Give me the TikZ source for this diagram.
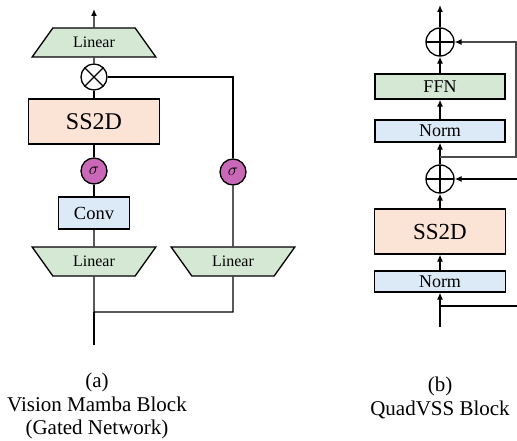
\documentclass[tikz,border=0pt]{standalone}
\usepackage{fontspec}
\setmainfont{Liberation Serif}
\usetikzlibrary{shapes.geometric, arrows.meta}

\definecolor{lingreen}{RGB}{213,232,212}
\definecolor{ssdsalmon}{RGB}{251,227,214}
\definecolor{normblue}{RGB}{220,234,247}
\definecolor{sigpurple}{RGB}{200,104,182}

\tikzstyle{block}=[rectangle, draw, line width=1.3pt, inner sep=0pt]
\tikzstyle{linear}=[trapezium, draw, line width=1.3pt, fill=lingreen,
                    trapezium stretches=true, minimum width=124pt,
                    minimum height=29pt, trapezium angle=55,
                    font=\fontsize{16}{16}\selectfont]
\tikzstyle{sig}=[circle, draw, line width=1.3pt, fill=sigpurple,
                 minimum size=26pt, inner sep=0pt,
                 font=\fontsize{17}{17}\selectfont]
\tikzstyle{times}=[circle, draw, line width=1.3pt, fill=white,
                   minimum size=26pt, inner sep=0pt,
                   path picture={\draw [line width=1.3pt]
                     (path picture bounding box.north west) -- (path picture bounding box.south east)
                     (path picture bounding box.north east) -- (path picture bounding box.south west);}]
\tikzstyle{plus}=[circle, draw, line width=1.3pt, fill=white,
                  minimum size=28pt, inner sep=0pt,
                  path picture={\draw [line width=1.3pt]
                    (path picture bounding box.north) -- (path picture bounding box.south)
                    (path picture bounding box.west) -- (path picture bounding box.east);}]
\tikzstyle{caption}=[align=center, font=\fontsize{21}{23.5}\selectfont]

\begin{document}
\begin{tikzpicture}[x=1pt, y=-1pt, >={Latex[length=7pt, width=6pt]}]

\useasboundingbox (0, 0) rectangle (517, 441);

%%%%%%%%%%%%%%%%%%
%%%%%%%%%%%%%%%%%%
\node (Linear_top) at (94, 42.5) [linear] {Linear};

\node (mul) at (94, 77) [times] {};

\node (SS2D_a) at (94, 121.5) [block, fill=ssdsalmon, minimum width=131pt, minimum height=45pt, font=\fontsize{24}{24}\selectfont] {SS2D};

\node (sig_left) at (94, 171) [sig] {$\sigma$};

\node (Conv) at (94, 213) [block, fill=normblue, minimum width=71pt, minimum height=32pt, font=\fontsize{18.5}{18.5}\selectfont] {Conv};

\node (Linear_left) at (94, 261.5) [linear, shape border rotate=180] {Linear};

%%%%%%%%%%%%%%%%%%
\node (sig_right) at (233, 172) [sig] {$\sigma$};

\node (Linear_right) at (233, 261.5) [linear, shape border rotate=180] {Linear};

\coordinate (out_a) at (94, 9);
\coordinate (join_a) at (94, 312);
\coordinate (in_a) at (94, 345);

%%%%%%%%%%%%%%%%%%
\node (plus_top) at (440, 42) [plus] {};

\node (FFN) at (440, 86.5) [block, fill=lingreen, minimum width=130pt, minimum height=25pt, font=\fontsize{18}{18}\selectfont] {FFN};

\node (Norm_top) at (440, 131) [block, fill=normblue, minimum width=130pt, minimum height=22pt, font=\fontsize{18}{18}\selectfont] {Norm};

\node (plus_bot) at (440, 179) [plus] {};

\node (SS2D_b) at (440, 231.5) [block, fill=ssdsalmon, minimum width=131pt, minimum height=45pt, font=\fontsize{23}{23}\selectfont] {SS2D};

\node (Norm_bot) at (440, 281.5) [block, fill=normblue, minimum width=131pt, minimum height=21pt, font=\fontsize{18}{18}\selectfont] {Norm};

\coordinate (out_b) at (440, 5);
\coordinate (split_top) at (440, 157);
\coordinate (res_top) at (516, 157);
\coordinate (split_bot) at (440, 306);
\coordinate (res_bot) at (520, 306);
\coordinate (in_b) at (440, 327);

%%%%%%%%%%%%%%%%%%
\node (cap_a) at (97, 406) [caption] {(a)\\Vision Mamba Block\\(Gated Network)};

\node (cap_b) at (440, 398) [caption] {(b)\\QuadVSS Block};

%%%%%%%%%%%%%%%%%%%%
%%%%%%%%%%%%%%%%%%%%
\draw [->, line width=1.3] (Linear_top) to (out_a);

\draw [line width=1.3] (mul) to (Linear_top);

\draw [line width=1.3] (SS2D_a) to (mul);

\draw [line width=1.3] (sig_left) to (SS2D_a);

\draw [line width=1.3] (Conv) to (sig_left);

\draw [line width=1.3] (Linear_left) to (Conv);

\draw [line width=1.3] (Linear_right) to (sig_right);

\draw [line width=1.3] (sig_right) |- (mul);

\draw [line width=1.3] (Linear_left) -- (join_a) -| (Linear_right);

\draw [line width=1.3] (in_a) to (join_a);

%%%%%%%%%%%%%%%%%%%%
\draw [->, line width=1.3] (in_b) to (Norm_bot);

\draw [->, line width=1.3] (Norm_bot) to (SS2D_b);

\draw [->, line width=1.3] (SS2D_b) to (plus_bot);

\draw [->, line width=1.3] (plus_bot) to (Norm_top);

\draw [->, line width=1.3] (Norm_top) to (FFN);

\draw [->, line width=1.3] (FFN) to (plus_top);

\draw [->, line width=1.3] (plus_top) to (out_b);

\draw [-{Latex[length=7pt, width=6pt, color=black]}, line width=1.1, black!70] (split_top) -- (res_top) |- (plus_top);

\draw [->, line width=1.3] (split_bot) -- (res_bot) |- (plus_bot);

\end{tikzpicture}
\end{document}
